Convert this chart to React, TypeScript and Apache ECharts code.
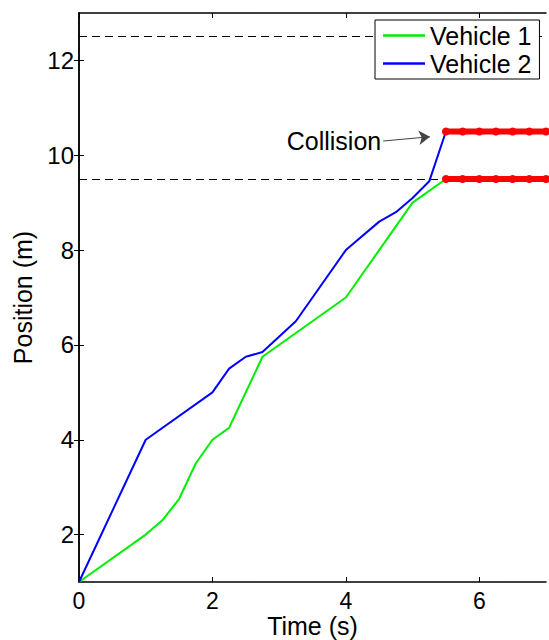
import React, { useEffect, useRef } from "react";
import * as echarts from "echarts";

// Vehicle 1 (green)
const time1 = [0, 1, 1.25, 1.5, 1.75, 2, 2.25, 2.75, 4, 4.5, 5, 5.5];
const pos1 = [1, 2, 2.3, 2.75, 3.5, 4, 4.25, 5.75, 7, 8, 9, 9.5];

// Vehicle 2 (blue)
const time2 = [0, 1, 2, 2.25, 2.5, 2.75, 3.25, 4, 4.5, 4.75, 5, 5.25, 5.5];
const pos2 = [1, 4, 5, 5.5, 5.75, 5.85, 6.5, 8, 8.6, 8.8, 9.1, 9.45, 10.5];

// Post-collision (red, stopped)
const stopTime = [5.5, 5.75, 6, 6.25, 6.5, 6.75, 7];
const stopPos1 = [9.5, 9.5, 9.5, 9.5, 9.5, 9.5, 9.5];
const stopPos2 = [10.5, 10.5, 10.5, 10.5, 10.5, 10.5, 10.5];

// Reference lines
const dashedLevels = [12.5, 9.5];

// Annotation
const collisionText = "Collision";
const collisionFrom = [4.56, 10.3];
const collisionTo = [5.26, 10.39];

// Axes
const xRange = [0, 7];
const yRange = [1, 13];
const xTicks = [0, 2, 4, 6];
const yTicks = [2, 4, 6, 8, 10, 12];

const seriesNames = ["Vehicle 1", "Vehicle 2"];

const FONT = "'Liberation Sans', Arial, sans-serif";

function zip(a: number[], b: number[]) {
  return a.map((v, i) => [v, b[i]]);
}

export default function App() {
  const ref = useRef<HTMLDivElement>(null);
  useEffect(() => {
    if (!ref.current) return;
    const chart = echarts.init(ref.current, null, { renderer: "svg" });
    const axisLine = { show: true, lineStyle: { color: "#000", width: 1.5 } };
    const option: any = {
      animation: false,
      backgroundColor: "#fff",
      grid: { left: 79, right: 3, top: 13, bottom: 58, containLabel: false, outerBoundsMode: "none" },
      legend: {
        data: seriesNames.map((n) => ({ name: n, icon: "rect" })),
        orient: "vertical",
        left: 375,
        top: 20,
        z: 20,
        padding: [3, 8, 3, 8],
        itemGap: 3,
        itemWidth: 42,
        itemHeight: 2.5,
        backgroundColor: "#fff",
        borderColor: "#000",
        borderWidth: 1,
        borderRadius: 0,
        textStyle: { fontSize: 25, lineHeight: 25, color: "#000", fontFamily: FONT },
      },
      xAxis: [
        {
          type: "value",
          min: xRange[0],
          max: xRange[1],
          position: "bottom",
          name: "Time (s)",
          nameLocation: "middle",
          nameGap: 33,
          nameMoveOverlap: false,
          nameTextStyle: { fontSize: 25, lineHeight: 22, color: "#000", fontFamily: FONT },
          axisLine,
          axisTick: { show: true, inside: true, length: 5, customValues: xTicks, lineStyle: { color: "#000", width: 1 } },
          axisLabel: { customValues: xTicks, fontSize: 23, lineHeight: 20, color: "#000", fontFamily: FONT, margin: 9 },
          splitLine: { show: false },
        },
        {
          type: "value",
          min: xRange[0],
          max: xRange[1],
          position: "top",
          axisLine,
          axisTick: { show: true, inside: true, length: 5, customValues: xTicks, lineStyle: { color: "#000", width: 1 } },
          axisLabel: { show: false },
          splitLine: { show: false },
        },
      ],
      yAxis: [
        {
          type: "value",
          min: yRange[0],
          max: yRange[1],
          position: "left",
          name: "Position (m)",
          nameLocation: "middle",
          nameGap: 44,
          nameMoveOverlap: false,
          nameTextStyle: { fontSize: 25, color: "#000", fontFamily: FONT },
          axisLine,
          axisTick: { show: true, inside: true, length: 5, customValues: yTicks, lineStyle: { color: "#000", width: 1 } },
          axisLabel: { customValues: yTicks, fontSize: 24, color: "#000", fontFamily: FONT, margin: 5 },
          splitLine: { show: false },
        },
        {
          type: "value",
          min: yRange[0],
          max: yRange[1],
          position: "right",
          axisLine,
          axisTick: { show: true, inside: true, length: 5, customValues: yTicks, lineStyle: { color: "#000", width: 1 } },
          axisLabel: { show: false },
          splitLine: { show: false },
        },
      ],
      series: [
        {
          name: seriesNames[0],
          type: "line",
          data: zip(time1, pos1),
          showSymbol: false,
          symbol: "none",
          lineStyle: { color: "#00ee00", width: 2 },
          itemStyle: { color: "#00ee00" },
          z: 2,
          markLine: {
            silent: true,
            z: 1,
            symbol: ["none", "none"],
            label: { show: false },
            lineStyle: { color: "#000", type: [8, 5], width: 1.2 },
            data: dashedLevels.map((v) => ({ yAxis: v })),
          },
        },
        {
          name: seriesNames[1],
          type: "line",
          data: zip(time2, pos2),
          showSymbol: false,
          symbol: "none",
          lineStyle: { color: "#0000ff", width: 2 },
          itemStyle: { color: "#0000ff" },
          z: 3,
          markLine: {
            silent: true,
            z: 3,
            symbol: ["none", "arrow"],
            symbolSize: 11,
            lineStyle: { color: "#444", type: "solid", width: 1 },
            label: {
              show: true,
              position: "start",
              formatter: collisionText,
              fontSize: 25,
              color: "#000",
              fontFamily: FONT,
              distance: 2,
            },
            data: [[{ coord: collisionFrom }, { coord: collisionTo }]],
          },
        },
        {
          name: "stop1",
          type: "line",
          data: zip(stopTime, stopPos1),
          symbol: "circle",
          symbolSize: 8,
          showSymbol: true,
          lineStyle: { color: "#ff0000", width: 6 },
          itemStyle: { color: "#ff0000" },
          z: 4,
        },
        {
          name: "stop2",
          type: "line",
          data: zip(stopTime, stopPos2),
          symbol: "circle",
          symbolSize: 8,
          showSymbol: true,
          lineStyle: { color: "#ff0000", width: 6 },
          itemStyle: { color: "#ff0000" },
          z: 4,
        },
      ],
    };
    chart.setOption(option);
    return () => chart.dispose();
  }, []);
  return (
    <div
      ref={ref}
      style={{ position: "fixed", left: 0, top: 0, width: 549, height: 640, background: "#fff" }}
    />
  );
}
